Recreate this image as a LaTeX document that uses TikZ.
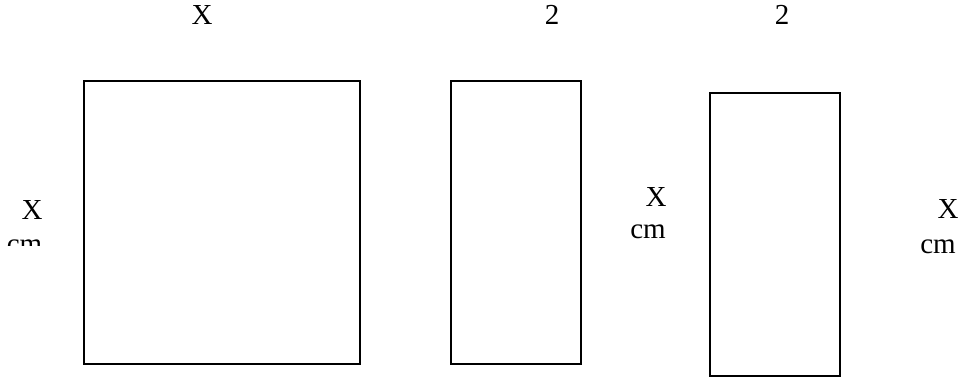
\documentclass[tikz,border=0pt]{standalone}
\usepackage{fontspec}
\setmainfont{Liberation Serif}
\begin{document}
\begin{tikzpicture}[x=1pt,y=-1pt,
  box/.style={draw=black,line width=2pt},
  lbl/.style={inner sep=0pt,font=\fontsize{29}{34}\selectfont}]
\useasboundingbox (0,0) rectangle (959,378);
\fill[white] (0,0) rectangle (959,378);
% rectangles
\draw[box] (84,81) rectangle (360,364);
\draw[box] (451,81) rectangle (581,364);
\draw[box] (710,93) rectangle (840,376);
% top labels
\node[lbl] (tx) at (202,15) {X};
\node[lbl] (t2a) at (552,15) {2};
\node[lbl] (t2b) at (782,15) {2};
% left label
\node[lbl] (lx) at (32,210) {X};
\begin{scope}
\clip (0,0) rectangle (80,245);
\node[lbl] (lcm) at (24.5,247) {cm};
\end{scope}
% middle label
\node[lbl] (mx) at (656,197) {X};
\node[lbl] (mcm) at (648,232) {cm};
% right label
\node[lbl] (rx) at (948,209) {X};
\node[lbl] (rcm) at (938,247) {cm};
\end{tikzpicture}
\end{document}
